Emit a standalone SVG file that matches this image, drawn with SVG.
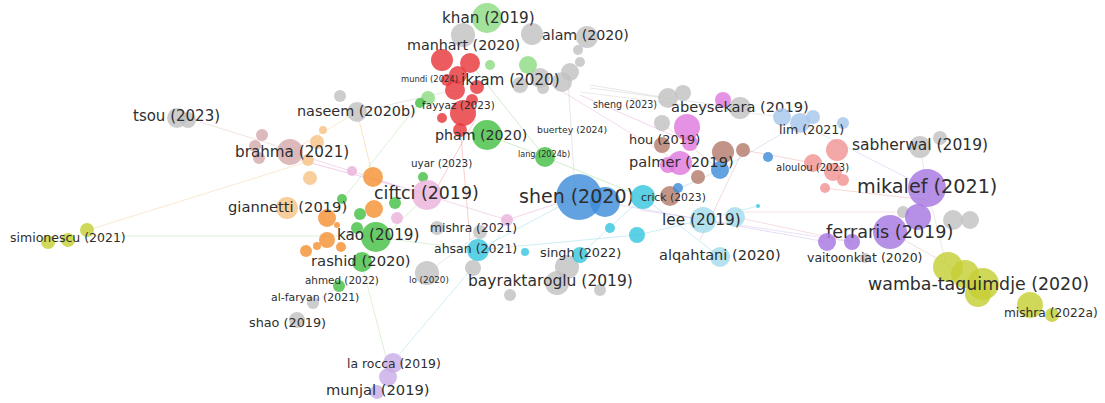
<svg xmlns="http://www.w3.org/2000/svg" width="1105" height="403" viewBox="0 0 1105 403">
<style>
text{font-family:"DejaVu Sans","Liberation Sans",sans-serif;fill:#2e2e2e}
circle{fill-opacity:.82}
.gy{fill:#c2c2c2}.gr{fill:#46c046}.lg{fill:#8edc84}.rd{fill:#e8383c}.pk{fill:#e07ade}.lp{fill:#eab2da}
.bl{fill:#3f8ed9}.lb{fill:#a6c6ec}.sa{fill:#f29494}.br{fill:#b57d6c}.pu{fill:#a676e0}.yl{fill:#c6cf36}
.cy{fill:#38c6de}.lc{fill:#a4dcea}.or{fill:#f59234}.lo{fill:#f5c386}.mv{fill:#d4abad}.lv{fill:#c9ade6}
#edges line{stroke-width:1;stroke-opacity:.5;fill:none}
</style>
<rect width="1105" height="403" fill="#fff"/>
<g id="edges">
<line x1="88" y1="230" x2="313" y2="160" stroke="#f3d3a8"/>
<line x1="88" y1="236" x2="375" y2="236" stroke="#b9e3b0"/>
<line x1="200" y1="122" x2="290" y2="150" stroke="#e9c8c0"/>
<line x1="290" y1="152" x2="357" y2="112" stroke="#f3d3a8"/>
<line x1="357" y1="112" x2="373" y2="177" stroke="#f5c386"/>
<line x1="357" y1="112" x2="455" y2="90" stroke="#d0d0d0"/>
<line x1="290" y1="152" x2="427" y2="195" stroke="#eab0d8"/>
<line x1="300" y1="160" x2="400" y2="187" stroke="#e79ad8"/>
<line x1="427" y1="195" x2="507" y2="220" stroke="#eab0d8"/>
<line x1="507" y1="220" x2="577" y2="197" stroke="#eab0d8"/>
<line x1="460" y1="125" x2="470" y2="240" stroke="#f0a0a0"/>
<line x1="475" y1="120" x2="430" y2="200" stroke="#f0a0a0"/>
<line x1="568" y1="80" x2="575" y2="190" stroke="#d0d0d0"/>
<line x1="487" y1="135" x2="545" y2="157" stroke="#a6dca0"/>
<line x1="545" y1="157" x2="643" y2="197" stroke="#a6dca0"/>
<line x1="470" y1="63" x2="545" y2="157" stroke="#a6dca0"/>
<line x1="590" y1="85" x2="668" y2="98" stroke="#d0d0d0"/>
<line x1="590" y1="88" x2="740" y2="108" stroke="#d0d0d0"/>
<line x1="580" y1="92" x2="782" y2="117" stroke="#d8d8d8"/>
<line x1="580" y1="95" x2="690" y2="143" stroke="#e9a6e2"/>
<line x1="540" y1="78" x2="680" y2="163" stroke="#eab8e4"/>
<line x1="800" y1="123" x2="927" y2="188" stroke="#b8d0ef"/>
<line x1="720" y1="170" x2="800" y2="123" stroke="#b8d0ef"/>
<line x1="823" y1="188" x2="927" y2="200" stroke="#f2b0b0"/>
<line x1="743" y1="150" x2="813" y2="163" stroke="#f2b0b0"/>
<line x1="743" y1="150" x2="700" y2="240" stroke="#e6b8b0"/>
<line x1="620" y1="205" x2="827" y2="242" stroke="#cfc0ef"/>
<line x1="640" y1="210" x2="852" y2="242" stroke="#d8c6f0"/>
<line x1="735" y1="217" x2="852" y2="242" stroke="#efbdbd"/>
<line x1="740" y1="212" x2="903" y2="212" stroke="#efc8c8"/>
<line x1="388" y1="365" x2="362" y2="265" stroke="#b9e3b0"/>
<line x1="397" y1="357" x2="500" y2="235" stroke="#a8def0"/>
<line x1="478" y1="250" x2="577" y2="197" stroke="#9edcec"/>
<line x1="478" y1="250" x2="637" y2="235" stroke="#9edcec"/>
<line x1="580" y1="255" x2="643" y2="197" stroke="#9edcec"/>
<line x1="637" y1="235" x2="703" y2="220" stroke="#9edcec"/>
<line x1="643" y1="197" x2="720" y2="257" stroke="#9edcec"/>
<line x1="703" y1="220" x2="758" y2="206" stroke="#9edcec"/>
<line x1="927" y1="188" x2="947" y2="267" stroke="#d6d6d6"/>
<line x1="890" y1="232" x2="963" y2="273" stroke="#e0c0c0"/>
<line x1="920" y1="147" x2="927" y2="188" stroke="#d6d6d6"/>
<line x1="373" y1="237" x2="478" y2="250" stroke="#b9e3b0"/>
<line x1="360" y1="260" x2="427" y2="195" stroke="#b9e3b0"/>
<line x1="342" y1="200" x2="420" y2="102" stroke="#b9e3b0"/>
<line x1="338" y1="287" x2="313" y2="303" stroke="#d0d0d0"/>
<line x1="427" y1="273" x2="480" y2="233" stroke="#d6d6d6"/>
<line x1="662" y1="123" x2="720" y2="170" stroke="#e6b8b0"/>
<line x1="680" y1="188" x2="720" y2="170" stroke="#a8c8ee"/>
</g>

<g id="top-cluster">
<circle class="gy" cx="463" cy="35" r="12"/>
<circle class="gy" cx="532" cy="34" r="11"/>
<circle class="gy" cx="587" cy="37" r="11"/>
<circle class="gy" cx="578" cy="50" r="5"/>
<circle class="gy" cx="580" cy="62" r="5"/>
<circle class="gy" cx="570" cy="72" r="9"/>
<circle class="gy" cx="562" cy="82" r="10"/>
<circle class="gy" cx="540" cy="78" r="10"/>
<circle class="gy" cx="543" cy="88" r="6"/>
<circle class="gy" cx="520" cy="85" r="8"/>
<circle class="lg" cx="528" cy="65" r="9"/>
<circle class="lg" cx="490" cy="65" r="5"/>
<circle class="rd" cx="442" cy="60" r="11"/>
<circle class="rd" cx="470" cy="63" r="10"/>
<circle class="rd" cx="458" cy="75" r="9"/>
<circle class="rd" cx="455" cy="90" r="10"/>
<circle class="rd" cx="477" cy="87" r="7"/>
<circle class="rd" cx="447" cy="80" r="6"/>
<circle class="rd" cx="472" cy="100" r="6"/>
<circle class="rd" cx="463" cy="113" r="13"/>
<circle class="rd" cx="460" cy="130" r="7"/>
<circle class="rd" cx="442" cy="118" r="5"/>
<circle class="lg" cx="428" cy="98" r="7"/>
<circle class="gr" cx="420" cy="103" r="5"/>
</g>

<g id="left-cluster">
<circle class="gy" cx="188" cy="120" r="8"/>
<circle class="gy" cx="340" cy="96" r="6"/>
<circle class="mv" cx="262" cy="135" r="6"/>
<circle class="mv" cx="255" cy="146" r="6"/>
<circle class="mv" cx="259" cy="158" r="6"/>
<circle class="lo" cx="323" cy="130" r="4"/>
<circle class="lo" cx="317" cy="142" r="7"/>
<circle class="lo" cx="308" cy="160" r="6"/>
<circle class="lo" cx="310" cy="178" r="7"/>
<circle class="lp" cx="352" cy="171" r="5"/>
<circle class="or" cx="373" cy="177" r="10"/>
<circle class="or" cx="374" cy="209" r="9"/>
<circle class="or" cx="327" cy="218" r="9"/>
<circle class="or" cx="327" cy="240" r="8"/>
<circle class="or" cx="317" cy="246" r="4"/>
<circle class="or" cx="306" cy="251" r="6"/>
<circle class="or" cx="341" cy="247" r="5"/>
<circle class="or" cx="337" cy="225" r="3"/>
<circle class="gr" cx="342" cy="199" r="5"/>
<circle class="gr" cx="360" cy="214" r="6"/>
<circle class="gr" cx="357" cy="228" r="6"/>
<circle class="gr" cx="395" cy="203" r="6"/>
<circle class="lp" cx="397" cy="218" r="6"/>
<circle class="gy" cx="437" cy="228" r="7"/>
<circle class="gy" cx="480" cy="232" r="7"/>
<circle class="gy" cx="473" cy="268" r="8"/>
<circle class="gy" cx="510" cy="295" r="6"/>
<circle class="lv" cx="377" cy="392" r="7"/>
</g>

<g id="center-cluster">
<circle class="bl" cx="605" cy="202" r="15"/>
<circle class="lp" cx="507" cy="220" r="6"/>
<circle class="cy" cx="525" cy="252" r="4"/>
<circle class="cy" cx="610" cy="228" r="5"/>
<circle class="cy" cx="637" cy="235" r="8"/>
<circle class="br" cx="670" cy="196" r="10"/>
<circle class="lc" cx="735" cy="217" r="10"/>
<circle class="cy" cx="758" cy="206" r="2"/>
<circle class="gy" cx="567" cy="267" r="12"/>
<circle class="gy" cx="600" cy="290" r="6"/>
</g>

<g id="upper-right-cluster">
<circle class="gy" cx="683" cy="93" r="8"/>
<circle class="gy" cx="740" cy="108" r="11"/>
<circle class="gy" cx="662" cy="123" r="8"/>
<circle class="pk" cx="723" cy="100" r="8"/>
<circle class="pk" cx="687" cy="127" r="13"/>
<circle class="pk" cx="690" cy="143" r="8"/>
<circle class="pk" cx="680" cy="163" r="12"/>
<circle class="pk" cx="668" cy="165" r="8"/>
<circle class="br" cx="723" cy="152" r="11"/>
<circle class="br" cx="743" cy="150" r="7"/>
<circle class="br" cx="698" cy="177" r="7"/>
<circle class="bl" cx="720" cy="170" r="9"/>
<circle class="bl" cx="768" cy="157" r="5"/>
<circle class="bl" cx="678" cy="188" r="5"/>
<circle class="lb" cx="800" cy="123" r="10"/>
<circle class="lb" cx="813" cy="117" r="7"/>
<circle class="lb" cx="843" cy="123" r="6"/>
<circle class="sa" cx="837" cy="150" r="11"/>
<circle class="sa" cx="813" cy="163" r="9"/>
<circle class="sa" cx="833" cy="172" r="9"/>
<circle class="sa" cx="843" cy="180" r="6"/>
<circle class="sa" cx="825" cy="188" r="5"/>
</g>

<g id="right-cluster">
<circle class="gy" cx="940" cy="138" r="7"/>
<circle class="gy" cx="903" cy="212" r="6"/>
<circle class="pu" cx="918" cy="217" r="13"/>
<circle class="gy" cx="953" cy="220" r="10"/>
<circle class="gy" cx="970" cy="220" r="9"/>
<circle class="pu" cx="852" cy="242" r="8"/>
<circle class="gy" cx="865" cy="258" r="5"/>
<circle class="yl" cx="965" cy="274" r="14"/>
<circle class="yl" cx="978" cy="294" r="13"/>
<circle class="yl" cx="1052" cy="315" r="7"/>
</g>

<g id="khan"><circle class="lg" cx="487" cy="18" r="15"/><text x="442" y="23" font-size="15.2">khan (2019)</text></g>
<g id="alam"><text x="542" y="40" font-size="14.2">alam (2020)</text></g>
<g id="manhart"><text x="407" y="50" font-size="14.3">manhart (2020)</text></g>
<g id="ikram"><text x="461" y="85" font-size="15.2">ikram (2020)</text></g>
<g id="mundi"><text x="401" y="82" font-size="8.4">mundi (2024)</text></g>
<g id="fayyaz"><text x="422" y="109" font-size="10.5">fayyaz (2023)</text></g>
<g id="pham"><circle class="gr" cx="487" cy="135" r="15"/><text x="435" y="140" font-size="14.2">pham (2020)</text></g>
<g id="buertey"><text x="537" y="133" font-size="9.3">buertey (2024)</text></g>
<g id="lang"><circle class="gr" cx="545" cy="157" r="10"/><text x="518" y="157" font-size="8.1">lang (2024b)</text></g>
<g id="uyar"><circle class="gr" cx="423" cy="177" r="5"/><text x="411" y="167" font-size="10.4">uyar (2023)</text></g>
<g id="tsou"><circle class="gy" cx="177" cy="118" r="10"/><text x="133" y="121" font-size="15">tsou (2023)</text></g>
<g id="naseem"><circle class="gy" cx="357" cy="112" r="10"/><text x="297" y="116" font-size="14.4">naseem (2020b)</text></g>
<g id="brahma"><circle class="mv" cx="290" cy="152" r="13"/><text x="235" y="157" font-size="15.2">brahma (2021)</text></g>
<g id="giannetti"><circle class="lo" cx="287" cy="208" r="11"/><text x="228" y="212" font-size="14.7">giannetti (2019)</text></g>
<g id="simionescu"><circle class="yl" cx="48" cy="242" r="7"/><circle class="yl" cx="68" cy="240" r="7"/><circle class="yl" cx="87" cy="230" r="7"/><text x="10" y="242" font-size="12.5">simionescu (2021)</text></g>
<g id="ciftci"><circle class="lp" cx="427" cy="195" r="15"/><text x="374" y="199" font-size="17.4">ciftci (2019)</text></g>
<g id="kao"><circle class="gr" cx="376" cy="237" r="15"/><text x="337" y="240" font-size="15.2">kao (2019)</text></g>
<g id="rashid"><circle class="gr" cx="362" cy="262" r="10"/><text x="311" y="266" font-size="14.8">rashid (2020)</text></g>
<g id="ahmed"><circle class="gr" cx="339" cy="286" r="6"/><text x="305" y="284" font-size="10.4">ahmed (2022)</text></g>
<g id="al-faryan"><circle class="gy" cx="313" cy="303" r="6"/><text x="271" y="301" font-size="10.9">al-faryan (2021)</text></g>
<g id="shao"><circle class="gy" cx="297" cy="320" r="8"/><text x="249" y="327" font-size="12.8">shao (2019)</text></g>
<g id="lo"><circle class="gy" cx="427" cy="273" r="12"/><text x="409" y="283" font-size="8.8">lo (2020)</text></g>
<g id="mishra2021"><text x="430" y="232" font-size="12.3">mishra (2021)</text></g>
<g id="ahsan"><circle class="cy" cx="478" cy="250" r="11"/><text x="434" y="253" font-size="12.5">ahsan (2021)</text></g>
<g id="singh"><circle class="cy" cx="580" cy="255" r="8"/><text x="540" y="257" font-size="12.8">singh (2022)</text></g>
<g id="bayraktaroglu"><circle class="gy" cx="557" cy="283" r="12"/><text x="468" y="286" font-size="15.5">bayraktaroglu (2019)</text></g>
<g id="la-rocca"><circle class="lv" cx="393" cy="363" r="10"/><text x="347" y="368" font-size="12.4">la rocca (2019)</text></g>
<g id="munjal"><circle class="lv" cx="388" cy="377" r="9"/><text x="326" y="395" font-size="14.7">munjal (2019)</text></g>
<g id="shen"><circle class="bl" cx="579" cy="197" r="23"/><text x="519" y="203" font-size="19">shen (2020)</text></g>
<g id="crick"><circle class="cy" cx="643" cy="197" r="12"/><text x="641" y="201" font-size="10.8">crick (2023)</text></g>
<g id="lee"><circle class="lc" cx="703" cy="220" r="13"/><text x="662" y="225" font-size="15.3">lee (2019)</text></g>
<g id="alqahtani"><circle class="lc" cx="720" cy="257" r="10"/><text x="659" y="260" font-size="14.6">alqahtani (2020)</text></g>
<g id="sheng"><text x="593" y="108" font-size="9.6">sheng (2023)</text></g>
<g id="abeysekara"><circle class="gy" cx="668" cy="98" r="10"/><text x="671" y="112" font-size="14.6">abeysekara (2019)</text></g>
<g id="hou"><circle class="br" cx="662" cy="145" r="8"/><text x="629" y="144" font-size="12.9">hou (2019)</text></g>
<g id="palmer"><text x="629" y="167" font-size="14.6">palmer (2019)</text></g>
<g id="lim"><circle class="lb" cx="782" cy="117" r="9"/><text x="779" y="134" font-size="12.6">lim (2021)</text></g>
<g id="aloulou"><text x="776" y="171" font-size="10">aloulou (2023)</text></g>
<g id="sabherwal"><circle class="gy" cx="920" cy="147" r="11"/><text x="852" y="150" font-size="15.5">sabherwal (2019)</text></g>
<g id="mikalef"><circle class="pu" cx="927" cy="188" r="19"/><text x="857" y="193" font-size="19.2">mikalef (2021)</text></g>
<g id="ferraris"><circle class="pu" cx="890" cy="232" r="17"/><text x="826" y="238" font-size="17.6">ferraris (2019)</text></g>
<g id="vaitoonkiat"><circle class="pu" cx="827" cy="242" r="9"/><text x="807" y="262" font-size="12.5">vaitoonkiat (2020)</text></g>
<g id="wamba-taguimdje"><circle class="yl" cx="948" cy="267" r="15"/><circle class="yl" cx="983" cy="284" r="16"/><text x="868" y="290" font-size="17.4">wamba-taguimdje (2020)</text></g>
<g id="mishra2022a"><circle class="yl" cx="1030" cy="305" r="13"/><text x="1004" y="317" font-size="12.2">mishra (2022a)</text></g>
</svg>
